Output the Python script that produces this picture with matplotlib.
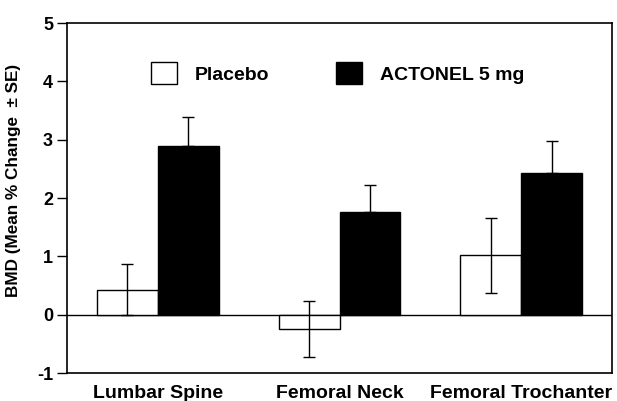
import matplotlib
matplotlib.use("Agg")
import matplotlib.pyplot as plt
import numpy as np

categories = ["Lumbar Spine", "Femoral Neck", "Femoral Trochanter"]
placebo = [0.43, -0.25, 1.02]
placebo_se = [0.44, 0.48, 0.64]
actonel = [2.90, 1.76, 2.43]
actonel_se = [0.49, 0.47, 0.54]
series_names = ["Placebo", "ACTONEL 5 mg"]
yticks = [-1, 0, 1, 2, 3, 4, 5]

plt.rcParams['font.family'] = ['Liberation Sans', 'DejaVu Sans']
plt.rcParams['font.weight'] = 'bold'

fig = plt.figure(figsize=(6.17, 4.01), dpi=100)
ax = fig.add_axes([67/617, 1-373/401, (612-67)/617, (373-23)/401])

x = np.arange(len(categories))
w = 0.335
b1 = ax.bar(x - w/2, placebo, w, color='white', edgecolor='black', linewidth=1.0,
            label=series_names[0], zorder=2)
b2 = ax.bar(x + w/2, actonel, w, color='black', edgecolor='black', linewidth=1.0,
            label=series_names[1], zorder=2)
ax.errorbar(x - w/2, placebo, yerr=placebo_se, fmt='none', ecolor='black',
            elinewidth=1.0, capsize=4, capthick=1.0, zorder=3)
ax.errorbar(x + w/2, actonel, yerr=[np.zeros(len(actonel)), actonel_se], fmt='none',
            ecolor='black', elinewidth=1.0, capsize=4, capthick=1.0, zorder=3)
ax.axhline(0, color='black', linewidth=1.0, zorder=1)

ax.set_xlim(-0.5, 2.5)
ax.set_ylim(-1, 5)
ax.set_yticks(yticks)
ax.set_yticklabels([str(t) for t in yticks], fontsize=13, fontweight='bold')
ax.set_xticks(x)
ax.set_xticklabels(categories, fontsize=14, fontweight='bold')
ax.tick_params(axis='x', length=0, pad=9)
ax.tick_params(axis='y', length=7, width=1.0, pad=3, direction='out')
for s in ax.spines.values():
    s.set_linewidth(1.2)

ax.set_ylabel("BMD (Mean % Change  \u00b1 SE)", fontsize=12.3, fontweight='bold', labelpad=6)
ax.yaxis.set_label_coords(-0.085, 0.551)

leg = ax.legend(handles=[b1, b2], ncol=2, frameon=False, loc='center left',
                bbox_to_anchor=(151/617, 1-73/401), bbox_transform=fig.transFigure,
                prop={'size': 14, 'weight': 'bold'}, handlelength=1.34, handleheight=1.29,
                handletextpad=0.93, columnspacing=3.4, borderpad=0, borderaxespad=0)

fig.savefig("out.png", dpi=100)
